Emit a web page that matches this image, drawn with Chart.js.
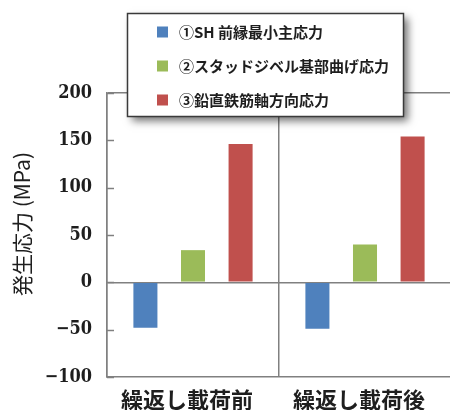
<!DOCTYPE html>
<html>
<head>
<meta charset="utf-8">
<script src="https://cdn.jsdelivr.net/npm/chart.js@4.4.1/dist/chart.umd.min.js"></script>
<style>
  html, body { margin: 0; padding: 0; overflow: hidden; background: #fff; }
</style>
</head>
<body>
<canvas id="myChart" width="451" height="410"></canvas>
<script>
// stress values per loading state (MPa)
var categories = ['繰返し載荷前', '繰返し載荷後'];
var seriesNames = ['①SH 前縁最小主応力', '②スタッドジベル基部曲げ応力', '③鉛直鉄筋軸方向応力'];
var shValues = [-48, -49];
var studValues = [34, 40];
var rebarValues = [146, 154];
var yTicks = [-100, -50, 0, 50, 100, 150, 200];
var yTitle = '発生応力 (MPa)';

var axisColor = '#808080';
var textColor = '#1e1e1e';
var jpFont = '"Noto Sans CJK JP", "Noto Sans", sans-serif';

// inward tick marks on the value axis, boxed legend and rotated axis title
var extras = {
	id: 'extras',
	afterDraw: function(chart) {
		var ctx = chart.ctx;
		var ys = chart.scales.y;

		ctx.save();
		ctx.strokeStyle = axisColor;
		ctx.lineWidth = 1.5;
		yTicks.forEach(function(v) {
			var py = Math.round(ys.getPixelForValue(v)) + 0.5;
			ctx.beginPath();
			ctx.moveTo(ys.right, py);
			ctx.lineTo(ys.right + 7, py);
			ctx.stroke();
		});
		ctx.restore();

		// y title
		ctx.save();
		ctx.translate(22, 224);
		ctx.rotate(-Math.PI / 2);
		ctx.font = '21px ' + jpFont;
		ctx.fillStyle = textColor;
		ctx.textAlign = 'center';
		ctx.textBaseline = 'middle';
		ctx.fillText(yTitle, 0, 0);
		ctx.restore();

		// legend box with shadow
		ctx.save();
		ctx.shadowColor = 'rgba(0,0,0,0.55)';
		ctx.shadowBlur = 8;
		ctx.shadowOffsetX = 5;
		ctx.shadowOffsetY = 5;
		ctx.fillStyle = '#fff';
		ctx.fillRect(127, 13, 276, 103);
		ctx.restore();

		ctx.save();
		ctx.strokeStyle = '#3a3a3a';
		ctx.lineWidth = 1.5;
		ctx.strokeRect(127.5, 13.5, 276, 103);
		ctx.font = 'bold 15px ' + jpFont;
		ctx.textBaseline = 'middle';
		chart.data.datasets.forEach(function(ds, i) {
			var y = 32 + i * 34;
			ctx.fillStyle = ds.backgroundColor;
			ctx.fillRect(157, y - 5.5, 11, 11);
			ctx.fillStyle = textColor;
			ctx.fillText(ds.label, 179, y);
		});
		ctx.restore();
	}
};

var ctx = document.getElementById('myChart').getContext('2d');
var myChart = new Chart(ctx, {
	type: 'bar',
	data: {
		labels: categories,
		datasets: [{
			label: seriesNames[0],
			data: shValues,
			backgroundColor: '#4F81BD'
		}, {
			label: seriesNames[1],
			data: studValues,
			backgroundColor: '#9BBB59'
		}, {
			label: seriesNames[2],
			data: rebarValues,
			backgroundColor: '#C0504D'
		}]
	},
	options: {
		responsive: false,
		animation: false,
		categoryPercentage: 0.83,
		barPercentage: 0.505,
		layout: {
			padding: { top: 93, left: 0, right: 0, bottom: 0 }
		},
		plugins: {
			legend: { display: false },
			tooltip: { enabled: false }
		},
		scales: {
			x: {
				afterFit: function(scale) { scale.height = 33; },
				grid: {
					offset: true,
					drawTicks: false,
					color: axisColor,
					lineWidth: 1.5
				},
				border: { display: true, color: axisColor, width: 1.5 },
				ticks: {
					padding: 9,
					labelOffset: -6,
					color: textColor,
					font: { family: jpFont, size: 22, weight: 'bold' }
				}
			},
			y: {
				min: -100,
				max: 200,
				afterFit: function(scale) { scale.width = 107; },
				afterBuildTicks: function(scale) {
					scale.ticks = yTicks.map(function(v) { return { value: v }; });
				},
				grid: {
					drawTicks: false,
					lineWidth: 1.5,
					color: function(c) {
						var v = c.tick ? c.tick.value : null;
						return (v === 0 || v === 200) ? axisColor : 'rgba(0,0,0,0)';
					}
				},
				border: { display: true, color: axisColor, width: 1.5 },
				ticks: {
					padding: 15,
					color: textColor,
					font: { family: '"DejaVu Serif Condensed", "DejaVu Serif", serif', size: 18, weight: 'bold' },
					callback: function(v) { return v < 0 ? '\u2212' + Math.abs(v) : v; }
				}
			}
		}
	},
	plugins: [extras]
});
</script>
</body>
</html>
